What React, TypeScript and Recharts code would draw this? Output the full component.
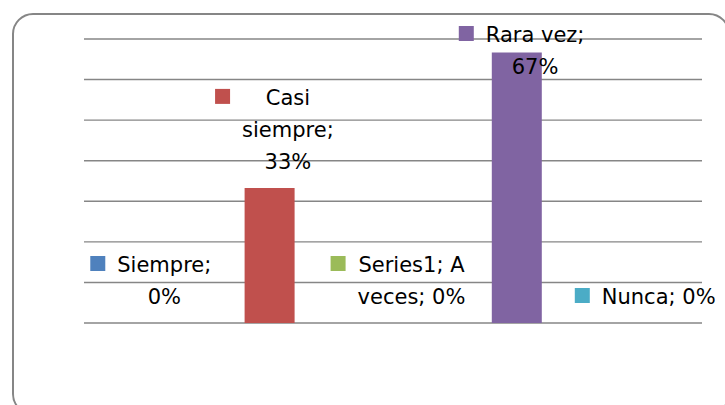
import { ComposedChart, Bar, Line, XAxis, YAxis, CartesianGrid, LabelList, Cell } from "recharts";

const categories = ["Siempre", "Casi siempre", "A veces", "Rara vez", "Nunca"];
const values = [0, 33.3, 0, 66.7, 0];
const colors = ["#4F81BD", "#C0504D", "#9BBB59", "#8064A2", "#4BACC6"];
const labelLines = [
  ["Siempre;", "0%"],
  ["Casi", "siempre;", "33%"],
  ["Series1; A", "veces; 0%"],
  ["Rara vez;", "67%"],
  ["Nunca; 0%"],
];
const yTicks = [0, 10, 20, 30, 40, 50, 60, 70];

const data = categories.map((name, i) => ({ name, value: values[i] }));

const FONT = "DejaVu Sans";
const FONT_SIZE = 21;
const LINE_H = 32;
const KEY = 15;
const KEY_GAP = 12;

let ctx: CanvasRenderingContext2D | null = null;
const textWidth = (s: string) => {
  if (!ctx) ctx = document.createElement("canvas").getContext("2d");
  if (!ctx) return s.length * 11;
  ctx.font = `${FONT_SIZE}px "${FONT}"`;
  return ctx.measureText(s).width;
};

// Excel-style data label: legend key + wrapped text, sitting above the bar top
const DataLabel = (props: any) => {
  const { x, y, index } = props;
  const lines = labelLines[index] || [];
  const w = Math.max(...lines.map(textWidth));
  const cx = Number(x) + 5;
  const blockW = KEY + KEY_GAP + w;
  const left = cx - blockW / 2;
  const textCx = left + KEY + KEY_GAP + w / 2;
  let firstBase = Number(y) - 19 - (lines.length - 1) * LINE_H;
  if (firstBase < 42) firstBase = 42;
  return (
    <g>
      <rect x={left} y={firstBase - 16} width={KEY} height={KEY} fill={colors[index]} />
      {lines.map((t, i) => (
        <text
          key={i}
          x={textCx}
          y={firstBase + i * LINE_H}
          textAnchor="middle"
          fontFamily={FONT}
          fontSize={FONT_SIZE}
          fill="#000"
        >
          {t}
        </text>
      ))}
    </g>
  );
};

export default function App() {
  return (
    <div
      style={{
        position: "absolute",
        left: 0,
        top: 0,
        width: 725,
        height: 405,
        overflow: "hidden",
        background: "#fff",
      }}
    >
      <div
        style={{
          position: "absolute",
          left: 12,
          top: 13,
          width: 714,
          height: 398,
          border: "2px solid #868686",
          borderRadius: 21,
        }}
      />
      <div style={{ position: "absolute", left: 0, top: 0 }}>
        <ComposedChart
          width={725}
          height={405}
          data={data}
          margin={{ top: 39, right: 23, left: 84, bottom: 82 }}
          barSize={50}
        >
          <CartesianGrid vertical={false} stroke="#868686" strokeWidth={1.4} />
          <XAxis dataKey="name" hide />
          <YAxis domain={[0, 70]} ticks={yTicks} hide />
          <Bar dataKey="value" isAnimationActive={false}>
            {data.map((d, i) => (
              <Cell key={d.name} fill={colors[i]} />
            ))}
          </Bar>
          <Line
            dataKey="value"
            stroke="none"
            dot={false}
            activeDot={false}
            legendType="none"
            isAnimationActive={false}
          >
            <LabelList dataKey="value" content={DataLabel} />
          </Line>
        </ComposedChart>
      </div>
    </div>
  );
}
